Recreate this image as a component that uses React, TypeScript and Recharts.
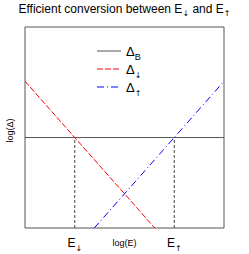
import React from 'react';
import { LineChart, Line, XAxis, YAxis, ReferenceArea, ReferenceLine, Legend } from 'recharts';

// log(E) positions of the two crossing points and the flat threshold
const crossings = [
  { key: 'down', x: 2.5, sub: '\u2193' },
  { key: 'up', x: 7.5, sub: '\u2191' },
];
const deltaB = [
  { x: 0, y: 4.5 },
  { x: 10, y: 4.5 },
];
const deltaDown = [
  { x: 0, y: 7.3 },
  { x: 6.52, y: 0 },
];
const deltaUp = [
  { x: 3.48, y: 0 },
  { x: 10, y: 7.3 },
];
const legendItems = [
  { sub: 'B', color: '#555555', dash: undefined as string | undefined },
  { sub: '\u2193', color: '#ff0000', dash: '6 2' },
  { sub: '\u2191', color: '#0000ff', dash: '7 3 1 3' },
];

const FONT = '"Liberation Sans", Arial, sans-serif';
const ARROW_FONT = '"DejaVu Sans", sans-serif';

const ETick = (props: any) => {
  const { x, y, payload } = props;
  const c = crossings.find((d) => d.x === payload.value);
  return (
    <text x={x} y={y + 11} textAnchor="middle" fontSize={12} fill="#000" fontFamily={FONT}>
      E
      <tspan fontSize={8} dy={4} fontFamily={ARROW_FONT}>{c ? c.sub : ''}</tspan>
    </text>
  );
};

const LegendBox = () => (
  <svg width={80} height={60}>
    {legendItems.map((it, i) => (
      <g key={i}>
        <path d={`M2,${6 + i * 18}H26`} fill="none" stroke={it.color} strokeWidth={1} strokeDasharray={it.dash} />
        <text x={31} y={11 + i * 18} fontSize={13} fill="#000" fontFamily={FONT}>
          {'\u0394'}
          <tspan fontSize={it.sub === 'B' ? 9 : 8} dy={4} fontFamily={it.sub === 'B' ? FONT : ARROW_FONT}>{it.sub}</tspan>
        </text>
      </g>
    ))}
  </svg>
);

export default function App() {
  return (
    <div style={{ position: 'absolute', left: 0, top: 0, width: 249, height: 254, background: '#fff', fontFamily: FONT }}>
      <div style={{ position: 'absolute', left: 0, top: 2, width: 249, textAlign: 'center', fontSize: 12, color: '#000' }}>
        Efficient conversion between E<sub style={{ fontSize: 8, fontFamily: ARROW_FONT }}>{'\u2193'}</sub> and E<sub style={{ fontSize: 8, fontFamily: ARROW_FONT }}>{'\u2191'}</sub>
      </div>
      <LineChart width={249} height={254} margin={{ top: 27, right: 25, bottom: 0, left: 0 }}>
        <XAxis
          type="number"
          dataKey="x"
          domain={[0, 10]}
          ticks={crossings.map((c) => c.x)}
          tick={<ETick />}
          tickLine={false}
          axisLine={false}
          height={26}
          allowDataOverflow
          label={{
            content: (p: any) => {
              const vb = p.viewBox || {};
              return (
                <text x={vb.x + vb.width / 2} y={vb.y + 18} textAnchor="middle" fontSize={9} fill="#000" fontFamily={FONT}>
                  log(E)
                </text>
              );
            },
          }}
        />
        <YAxis
          type="number"
          dataKey="y"
          domain={[0, 10]}
          tick={false}
          tickLine={false}
          axisLine={false}
          width={25}
          allowDataOverflow
          label={{
            content: (p: any) => {
              const vb = p.viewBox || {};
              const cx = 13;
              const cy = vb.y + vb.height / 2 + 3;
              return (
                <text x={cx} y={cy} transform={`rotate(-90 ${cx} ${cy})`} textAnchor="middle" fontSize={9} fill="#000" fontFamily={FONT}>
                  log({'\u0394'})
                </text>
              );
            },
          }}
        />
        <ReferenceArea x1={0} x2={10} y1={0} y2={10} fill="none" stroke="#555555" strokeWidth={1} />
        {crossings.map((c) => (
          <ReferenceLine
            key={c.key}
            segment={[{ x: c.x, y: 0 }, { x: c.x, y: deltaB[0].y }]}
            stroke="#444444"
            strokeDasharray="3 2"
          />
        ))}
        <Line data={deltaB} dataKey="y" stroke="#555555" strokeWidth={1} dot={false} isAnimationActive={false} />
        <Line data={deltaDown} dataKey="y" stroke="#ff0000" strokeWidth={1} strokeDasharray="6 2" dot={false} isAnimationActive={false} />
        <Line data={deltaUp} dataKey="y" stroke="#0000ff" strokeWidth={1} strokeDasharray="7 3 1 3" dot={false} isAnimationActive={false} />
        <Legend
          layout="vertical"
          align="center"
          verticalAlign="middle"
          content={<LegendBox />}
          wrapperStyle={{ position: 'absolute', left: 95, top: 45, width: 80, height: 60 }}
        />
      </LineChart>
    </div>
  );
}
